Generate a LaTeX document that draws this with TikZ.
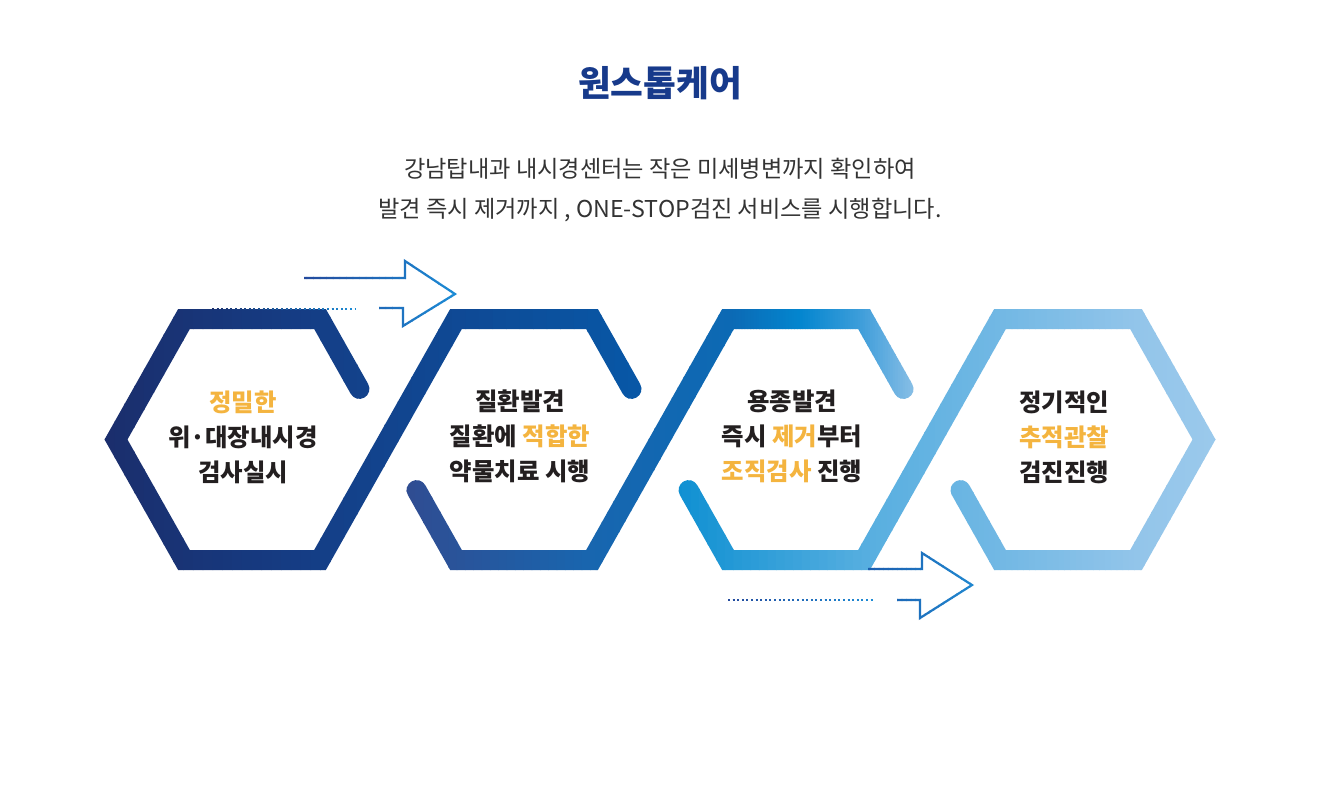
\documentclass[tikz,border=0pt]{standalone}
\usepackage{fontspec}
\setmainfont{Noto Sans CJK KR}
\usetikzlibrary{calc}

\definecolor{navy}{HTML}{173A8B}
\definecolor{ink}{HTML}{231F20}
\definecolor{greytext}{HTML}{333333}
\definecolor{accent}{HTML}{F4B43F}
% stops of the blue ribbon
\definecolor{bandA}{HTML}{1B2D6B}
\definecolor{bandB}{HTML}{143F88}
\definecolor{bandC}{HTML}{0759A8}
\definecolor{bandD}{HTML}{324A8F}
\definecolor{bandE}{HTML}{1866AF}
\definecolor{bandF}{HTML}{0C69B4}
\definecolor{bandG}{HTML}{0386CF}
\definecolor{bandH}{HTML}{3D9DDA}
\definecolor{bandI}{HTML}{90C2E7}
\definecolor{bandJ}{HTML}{0A8ED1}
\definecolor{bandK}{HTML}{58AFE0}
\definecolor{bandL}{HTML}{72B8E4}
\definecolor{bandM}{HTML}{93C5EA}
\definecolor{bandN}{HTML}{9CCAEC}
\definecolor{arrowA}{HTML}{24499C}
\definecolor{arrowB}{HTML}{1C8CD6}
\definecolor{arrowC}{HTML}{1B5CAE}
\definecolor{arrowD}{HTML}{2188D0}

\newcommand\hl[1]{\textcolor{accent}{#1}}
% left-to-right colour run on a path: x from, x to, colour from, colour to, style, path
\newcommand\gradx[6]{%
  \foreach \k in {1,...,24}{%
    \pgfmathsetmacro\xa{#1+(#2-#1)*(\k-1)/24}%
    \pgfmathsetmacro\xb{#1+(#2-#1)*\k/24+0.6}%
    \pgfmathsetmacro\pc{100*(\k-0.5)/24}%
    \begin{scope}
      \clip (\xa,0) rectangle (\xb,800);
      \draw[#5, draw=#4!\pc!#3] #6;
    \end{scope}
  }%
}

\tikzset{
  band/.style={line width=10pt, line cap=round, line join=miter},
  arrowline/.style={line width=1.1pt, line join=miter},
  dotline/.style={line width=1.1pt, dash pattern=on 1pt off 1.3pt},
  hextext/.style={align=center, text=ink, font=\fontsize{12.2}{17.5}\selectfont\bfseries},
}

\begin{document}
\begin{tikzpicture}[x=0.5pt, y=-0.5pt]
\fill[white] (0,0) rectangle (1320,800);
\useasboundingbox (0,0) rectangle (1320,800);

% corners of the four hexagons
\foreach \n/\c in {1/252,2/524,3/796,4/1068}{
  \coordinate (tl\n) at (\c-68,319);
  \coordinate (tr\n) at (\c+68,319);
  \coordinate (r\n) at (\c+136,439.5);
  \coordinate (br\n) at (\c+68,560);
  \coordinate (bl\n) at (\c-68,560);
  \coordinate (l\n) at (\c-136,439.5);
  \coordinate (ur\n) at ($(tr\n)!0.58!(r\n)$);
  \coordinate (ll\n) at ($(bl\n)!0.58!(l\n)$);
}

% titles
\node (title) at (660,83) {\fontsize{17.8}{22}\selectfont\bfseries\color{navy}원스톱케어};
\node (intro) [align=center, text=greytext, font=\fontsize{11.6}{20}\selectfont] at (660,190)
  {강남탑내과 내시경센터는 작은 미세병변까지 확인하여\\발견 즉시 제거까지 , ONE-STOP검진 서비스를 시행합니다.};

% ribbon
\gradx{95}{330}{bandA}{bandB}{band}{(ur1) -- (tr1) -- (tl1) -- (l1) -- (bl1) -- (br1) -- (tl2) -- (tr2) -- (ur2)}
\gradx{330}{655}{bandB}{bandC}{band}{(ur1) -- (tr1) -- (tl1) -- (l1) -- (bl1) -- (br1) -- (tl2) -- (tr2) -- (ur2)}
\gradx{390}{590}{bandD}{bandE}{band}{(ll2) -- (bl2) -- (br2) -- (tl3) -- (tr3) -- (ur3)}
\gradx{590}{730}{bandE}{bandF}{band}{(ll2) -- (bl2) -- (br2) -- (tl3) -- (tr3) -- (ur3)}
\gradx{730}{800}{bandF}{bandG}{band}{(ll2) -- (bl2) -- (br2) -- (tl3) -- (tr3) -- (ur3)}
\gradx{800}{860}{bandG}{bandH}{band}{(ll2) -- (bl2) -- (br2) -- (tl3) -- (tr3) -- (ur3)}
\gradx{860}{920}{bandH}{bandI}{band}{(ll2) -- (bl2) -- (br2) -- (tl3) -- (tr3) -- (ur3)}
\gradx{665}{870}{bandJ}{bandK}{band}{(ll3) -- (bl3) -- (br3) -- (tl4) -- (tr4) -- (r4) -- (br4) -- (bl4) -- (ll4)}
\gradx{870}{1000}{bandK}{bandL}{band}{(ll3) -- (bl3) -- (br3) -- (tl4) -- (tr4) -- (r4) -- (br4) -- (bl4) -- (ll4)}
\gradx{1000}{1140}{bandL}{bandM}{band}{(ll3) -- (bl3) -- (br3) -- (tl4) -- (tr4) -- (r4) -- (br4) -- (bl4) -- (ll4)}
\gradx{1140}{1230}{bandM}{bandN}{band}{(ll3) -- (bl3) -- (br3) -- (tl4) -- (tr4) -- (r4) -- (br4) -- (bl4) -- (ll4)}

% arrows
\gradx{300}{458}{arrowA}{arrowB}{arrowline}{(304,278) -- (405,278) -- (405,261) -- (455,294) -- (403,326) -- (403,308) -- (379,308)}
\gradx{210}{356}{bandA}{arrowB}{dotline}{(212,309) -- (355,309)}
\gradx{865}{975}{arrowC}{arrowD}{arrowline}{(868,569) -- (922,569) -- (922,553) -- (972,585) -- (920,618) -- (920,600) -- (897,600)}
\gradx{726}{874}{arrowA}{arrowB}{dotline}{(728,600) -- (873,600)}

% texts
\node (step1) [hextext] at (243,437) {\hl{정밀한}\\위·대장내시경\\검사실시};
\node (step2) [hextext] at (520,436) {질환발견\\질환에 \hl{적합한}\\약물치료 시행};
\node (step3) [hextext] at (792,436) {용종발견\\즉시 \hl{제거}부터\\\hl{조직검사} 진행};
\node (step4) [hextext] at (1064,437) {정기적인\\\hl{추적관찰}\\검진진행};
\end{tikzpicture}
\end{document}
